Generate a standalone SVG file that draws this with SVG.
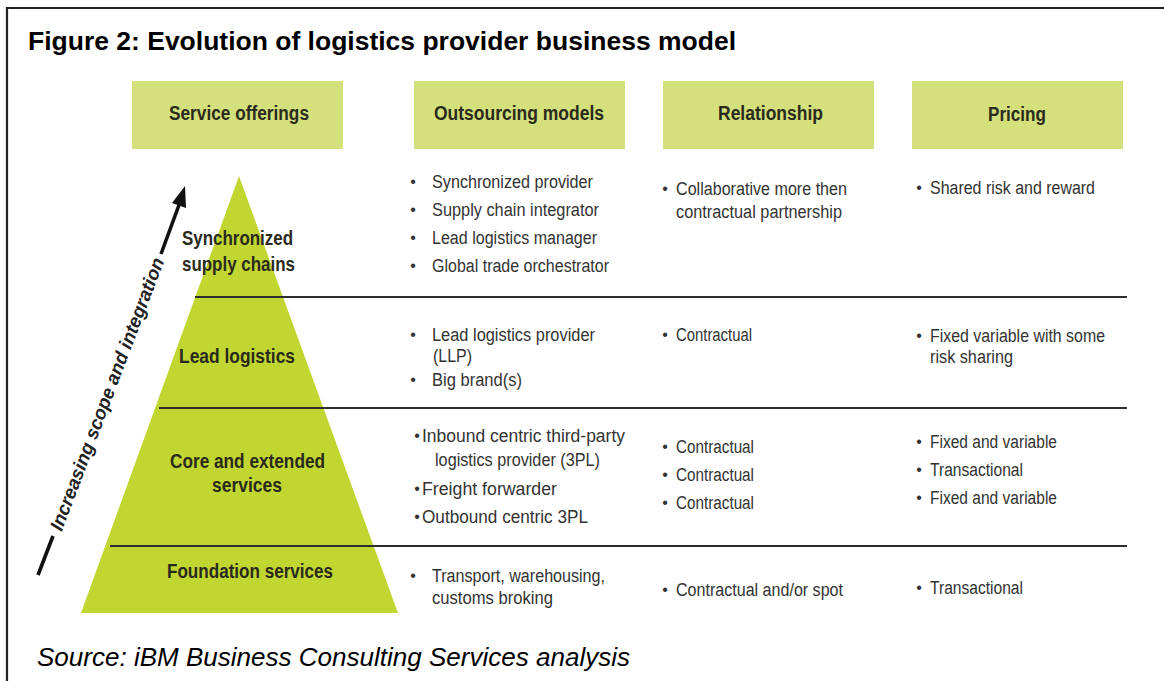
<svg xmlns="http://www.w3.org/2000/svg" width="1164" height="681" viewBox="0 0 1164 681">
<style>
.hbox{fill:#d4e07b}
.hd{font-family:"Liberation Sans",Arial,sans-serif;font-weight:bold;font-size:20px;fill:#2a2a1c}
.pl{font-family:"Liberation Sans",Arial,sans-serif;font-weight:bold;font-size:20px;fill:#2a2a1c}
.bt{font-family:"Liberation Sans",Arial,sans-serif;font-size:18px;fill:#333}
.bu{font-family:"Liberation Sans",Arial,sans-serif;font-size:16px;fill:#333;text-anchor:middle}
.sep{stroke:#2e2e2e;stroke-width:2;fill:none}
</style>
<rect x="0" y="0" width="1164" height="681" fill="#fff"/>
<path d="M7,690 V8 H1170" fill="none" stroke="#222" stroke-width="2.2"/>
<text x="28" y="50" font-family="'Liberation Sans',Arial,sans-serif" font-weight="bold" font-size="26" fill="#000" textLength="708" lengthAdjust="spacingAndGlyphs">Figure 2: Evolution of logistics provider business model</text>
<text x="37" y="666" font-family="'Liberation Sans',Arial,sans-serif" font-style="italic" font-size="26" fill="#000" textLength="593" lengthAdjust="spacingAndGlyphs">Source: iBM Business Consulting Services analysis</text>

<g id="header-service">
<rect class="hbox" x="132" y="81" width="211" height="68"/>
<text class="hd" x="169" y="120" textLength="140" lengthAdjust="spacingAndGlyphs">Service offerings</text>
</g>
<g id="header-outsourcing">
<rect class="hbox" x="414" y="81" width="211" height="68"/>
<text class="hd" x="434" y="120" textLength="170" lengthAdjust="spacingAndGlyphs">Outsourcing models</text>
</g>
<g id="header-relationship">
<rect class="hbox" x="663" y="81" width="211" height="68"/>
<text class="hd" x="718" y="120" textLength="105" lengthAdjust="spacingAndGlyphs">Relationship</text>
</g>
<g id="header-pricing">
<rect class="hbox" x="912" y="81" width="211" height="68"/>
<text class="hd" x="988" y="121" textLength="58" lengthAdjust="spacingAndGlyphs">Pricing</text>
</g>

<g id="pyramid">
<polygon points="239,176 398,613 81,613" fill="#c2d632"/>
</g>

<g id="connectors">
<line class="sep" x1="195" y1="297" x2="1127" y2="297"/>
<line class="sep" x1="159" y1="408" x2="1127" y2="408"/>
<line class="sep" x1="110" y1="546" x2="1127" y2="546"/>
<g id="scope-arrow">
<line x1="38" y1="575" x2="53" y2="536" stroke="#111" stroke-width="3.6"/>
<line x1="161" y1="254" x2="179" y2="205" stroke="#111" stroke-width="3.6"/>
<polygon points="185,186 186,208 172,203" fill="#111"/>
<text transform="translate(107,394) rotate(-69.25)" text-anchor="middle" dy="6.5" font-family="'Liberation Sans',Arial,sans-serif" font-weight="bold" font-style="italic" font-size="19" fill="#222" textLength="290" lengthAdjust="spacingAndGlyphs">Increasing scope and integration</text>
</g>
</g>

<g id="level-synchronized">
<text class="pl" x="182" y="245" textLength="111" lengthAdjust="spacingAndGlyphs">Synchronized</text>
<text class="pl" x="182" y="271" textLength="113" lengthAdjust="spacingAndGlyphs">supply chains</text>
</g>
<g id="level-lead">
<text class="pl" x="179" y="363" textLength="116" lengthAdjust="spacingAndGlyphs">Lead logistics</text>
</g>
<g id="level-core">
<text class="pl" x="170" y="468" textLength="155" lengthAdjust="spacingAndGlyphs">Core and extended</text>
<text class="pl" x="212" y="492" textLength="70" lengthAdjust="spacingAndGlyphs">services</text>
</g>
<g id="level-foundation">
<text class="pl" x="167" y="578" textLength="166" lengthAdjust="spacingAndGlyphs">Foundation services</text>
</g>

<g id="row1-outsourcing">
<text class="bu" x="413" y="187">•</text><text class="bt" x="432" y="188" textLength="161" lengthAdjust="spacingAndGlyphs">Synchronized provider</text>
<text class="bu" x="413" y="215">•</text><text class="bt" x="432" y="216" textLength="167" lengthAdjust="spacingAndGlyphs">Supply chain integrator</text>
<text class="bu" x="413" y="243">•</text><text class="bt" x="432" y="244" textLength="165" lengthAdjust="spacingAndGlyphs">Lead logistics manager</text>
<text class="bu" x="413" y="271">•</text><text class="bt" x="432" y="272" textLength="177" lengthAdjust="spacingAndGlyphs">Global trade orchestrator</text>
</g>
<g id="row1-relationship">
<text class="bu" x="665" y="194">•</text><text class="bt" x="676" y="195" textLength="171" lengthAdjust="spacingAndGlyphs">Collaborative more then</text>
<text class="bt" x="676" y="218" textLength="166" lengthAdjust="spacingAndGlyphs">contractual partnership</text>
</g>
<g id="row1-pricing">
<text class="bu" x="919" y="193">•</text><text class="bt" x="930" y="194" textLength="165" lengthAdjust="spacingAndGlyphs">Shared risk and reward</text>
</g>

<g id="row2-outsourcing">
<text class="bu" x="413" y="340">•</text><text class="bt" x="432" y="341" textLength="163" lengthAdjust="spacingAndGlyphs">Lead logistics provider</text>
<text class="bt" x="433" y="362" textLength="39" lengthAdjust="spacingAndGlyphs">(LLP)</text>
<text class="bu" x="413" y="385">•</text><text class="bt" x="432" y="386" textLength="90" lengthAdjust="spacingAndGlyphs">Big brand(s)</text>
</g>
<g id="row2-relationship">
<text class="bu" x="665" y="340">•</text><text class="bt" x="676" y="341" textLength="76" lengthAdjust="spacingAndGlyphs">Contractual</text>
</g>
<g id="row2-pricing">
<text class="bu" x="919" y="341">•</text><text class="bt" x="930" y="342" textLength="175" lengthAdjust="spacingAndGlyphs">Fixed variable with some</text>
<text class="bt" x="930" y="363" textLength="83" lengthAdjust="spacingAndGlyphs">risk sharing</text>
</g>

<g id="row3-outsourcing">
<text class="bu" x="417" y="441">•</text><text class="bt" x="422" y="442" textLength="203" lengthAdjust="spacingAndGlyphs">Inbound centric third-party</text>
<text class="bt" x="435" y="466" textLength="165" lengthAdjust="spacingAndGlyphs">logistics provider (3PL)</text>
<text class="bu" x="417" y="494">•</text><text class="bt" x="422" y="495" textLength="135" lengthAdjust="spacingAndGlyphs">Freight forwarder</text>
<text class="bu" x="417" y="522">•</text><text class="bt" x="422" y="523" textLength="166" lengthAdjust="spacingAndGlyphs">Outbound centric 3PL</text>
</g>
<g id="row3-relationship">
<text class="bu" x="665" y="452">•</text><text class="bt" x="676" y="453" textLength="78" lengthAdjust="spacingAndGlyphs">Contractual</text>
<text class="bu" x="665" y="480">•</text><text class="bt" x="676" y="481" textLength="78" lengthAdjust="spacingAndGlyphs">Contractual</text>
<text class="bu" x="665" y="508">•</text><text class="bt" x="676" y="509" textLength="78" lengthAdjust="spacingAndGlyphs">Contractual</text>
</g>
<g id="row3-pricing">
<text class="bu" x="919" y="447">•</text><text class="bt" x="930" y="448" textLength="127" lengthAdjust="spacingAndGlyphs">Fixed and variable</text>
<text class="bu" x="919" y="475">•</text><text class="bt" x="930" y="476" textLength="93" lengthAdjust="spacingAndGlyphs">Transactional</text>
<text class="bu" x="919" y="503">•</text><text class="bt" x="930" y="504" textLength="127" lengthAdjust="spacingAndGlyphs">Fixed and variable</text>
</g>

<g id="row4-outsourcing">
<text class="bu" x="413" y="581">•</text><text class="bt" x="432" y="582" textLength="173" lengthAdjust="spacingAndGlyphs">Transport, warehousing,</text>
<text class="bt" x="432" y="604" textLength="121" lengthAdjust="spacingAndGlyphs">customs broking</text>
</g>
<g id="row4-relationship">
<text class="bu" x="665" y="595">•</text><text class="bt" x="676" y="596" textLength="167" lengthAdjust="spacingAndGlyphs">Contractual and/or spot</text>
</g>
<g id="row4-pricing">
<text class="bu" x="919" y="593">•</text><text class="bt" x="930" y="594" textLength="93" lengthAdjust="spacingAndGlyphs">Transactional</text>
</g>
</svg>
